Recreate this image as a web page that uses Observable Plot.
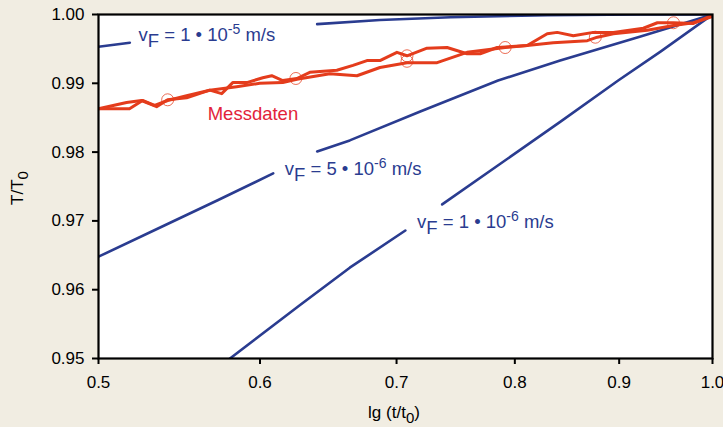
<!DOCTYPE html>
<html><head><meta charset="utf-8">
<script src="https://cdn.jsdelivr.net/npm/d3@7"></script>
<script src="https://cdn.jsdelivr.net/npm/@observablehq/plot@0.6"></script>
<style>
html,body{margin:0;padding:0;background:#f1ede2;}
#chart{width:723px;height:427px;position:relative;}
</style></head><body><div id="chart"></div>
<script>
// ---- data ----
const xTicks = [0.5, 0.6, 0.7, 0.8, 0.9, 1.0];
const yTicks = [0.95, 0.96, 0.97, 0.98, 0.99, 1.00];

// measurement run 1
const run1X = [0.5,0.5161,0.5249,0.5339,0.5406,0.5523,0.5669,0.5746,0.5818,0.5911,0.6019,0.6080,0.6156,0.6255,0.6347,0.6544,0.6664,0.6770,0.6870,0.7003,0.7083,0.7245,0.7411,0.7580,0.7693,0.7842,0.8112,0.8298,0.8392,0.8546,0.8741,0.8941,0.9249,0.9397,0.9569,0.9787,1.0];
const run1Y = [0.9863,0.9872,0.9875,0.9866,0.9876,0.9879,0.9890,0.9885,0.9901,0.9901,0.9908,0.9911,0.9904,0.9907,0.9916,0.9919,0.9926,0.9933,0.9933,0.9945,0.9940,0.9951,0.9952,0.9943,0.9943,0.9952,0.9955,0.9972,0.9974,0.9969,0.9974,0.9974,0.9980,0.9988,0.9988,0.9987,0.9999];
// measurement run 2
const run2X = [0.5,0.5178,0.5255,0.5327,0.5406,0.5523,0.5669,0.5844,0.5998,0.6156,0.6255,0.6492,0.6694,0.6870,0.7083,0.7328,0.7580,0.7719,0.7913,0.8112,0.8354,0.8682,0.8781,0.8941,0.9291,0.9569,0.9787,1.0];
const run2Y = [0.9863,0.9863,0.9875,0.9868,0.9875,0.9882,0.9890,0.9895,0.9900,0.9901,0.9906,0.9914,0.9911,0.9923,0.9930,0.9930,0.9945,0.9948,0.9952,0.9955,0.9959,0.9962,0.9967,0.9972,0.9977,0.9984,0.9988,0.9997];
// circled measurement points
const markX = [0.5406,0.6248,0.7083,0.7083,0.7913,0.8761,0.9569];
const markY = [0.9876,0.9907,0.9940,0.9932,0.9952,0.9967,0.9988];

// model curves (null = gap behind the label)
const v1e5X = [0.5,0.518,null,0.640,0.687,0.744,0.830,0.922,1.0];
const v1e5Y = [0.9953,0.9959,null,0.9986,0.9992,0.9996,0.9999,1.0,1.0];
const v5e6X = [0.5,0.5357,0.572,0.609,null,0.640,0.664,0.719,0.785,0.842,0.922,1.0];
const v5e6Y = [0.9648,0.9690,0.9730,0.9769,null,0.9801,0.9817,0.9859,0.9904,0.9933,0.9968,1.0];
const v1e6X = [0.580,0.628,0.664,0.707,null,0.737,0.787,0.842,0.899,0.943,1.0];
const v1e6Y = [0.95,0.9578,0.9632,0.9686,null,0.9724,0.9783,0.9844,0.9904,0.9946,1.0];

const curveLabels = ["vF = 1 • 10-5 m/s", "vF = 5 • 10-6 m/s", "vF = 1 • 10-6 m/s"];
const curveLabelX = [0.5231, 0.6170, 0.7164];
const curveLabelY = [0.99608, 0.9766, 0.9690];
const dataLabel = "Messdaten";
const dataLabelX = 0.5656, dataLabelY = 0.9847;

// ---- tables ----
const rows = (X, Y, s) => X.map((x, i) => ({x, y: Y[i], s}));
const curves = [...rows(v1e5X, v1e5Y, "1e-5"), ...rows(v5e6X, v5e6Y, "5e-6"), ...rows(v1e6X, v1e6Y, "1e-6")];
const runs = [...rows(run1X, run1Y, "r1"), ...rows(run2X, run2Y, "r2")];
const marks = rows(markX, markY, "m");
const labels = curveLabels.map((t, i) => ({t, x: curveLabelX[i], y: curveLabelY[i]}));

const BLUE = "#2a3c90", RED = "#e43c1c", LABELRED = "#e2233a";

const chart = Plot.plot({
  width: 723, height: 427,
  marginLeft: 98, marginRight: 11, marginTop: 14, marginBottom: 69,
  style: {background: "#f1ede2", fontFamily: "'Liberation Sans', Arial, sans-serif", fontSize: "17px", color: "black"},
  x: {type: "log", domain: [0.5, 1.0]},
  y: {domain: [0.95, 1.0]},
  marks: [
    Plot.frame({fill: "white", stroke: null}),
    Plot.line(curves, {x: "x", y: "y", z: "s", stroke: BLUE, strokeWidth: 2.6, clip: true}),
    Plot.line(runs, {x: "x", y: "y", z: "s", stroke: RED, strokeWidth: 3, clip: true}),
    Plot.dot(marks, {x: "x", y: "y", r: 6, stroke: RED, strokeWidth: 1, strokeOpacity: 0.75, fill: "none"}),
    Plot.text(labels, {x: "x", y: "y", text: "t", fill: BLUE, fontSize: 18.5, textAnchor: "start", lineAnchor: "bottom"}),
    Plot.text([dataLabel], {x: () => dataLabelX, y: () => dataLabelY, text: d => d, fill: LABELRED, fontSize: 18.5, textAnchor: "start", lineAnchor: "bottom"}),
    Plot.frame({stroke: "black", strokeWidth: 2.2}),
    Plot.axisX({ticks: xTicks, tickFormat: d => d.toFixed(1), tickSize: 6, tickPadding: 11, strokeWidth: 2, label: null, fontSize: 17}),
    Plot.axisY({ticks: yTicks, tickFormat: d => d.toFixed(2), tickSize: 6, tickPadding: 8, strokeWidth: 2, label: null, fontSize: 17})
  ]
});

// rich text (subscripts / superscripts)
const svg = d3.select(chart);
svg.selectAll("text").each(function () {
  const el = d3.select(this);
  const m = /^v(F) = (\d) • 10(-\d) m\/s$/.exec(this.textContent);
  if (!m) return;
  el.text(null);
  el.append("tspan").text("v");
  el.append("tspan").attr("dy", 6).text("F");
  el.append("tspan").attr("dy", -6).text(` = ${m[2]} • 10`);
  el.append("tspan").attr("dy", -7).attr("font-size", 14).text(m[3]);
  el.append("tspan").attr("dy", 7).text(" m/s");
});

// axis titles
const yt = svg.append("text")
  .attr("transform", "translate(23,188) rotate(-90)")
  .attr("text-anchor", "middle").attr("font-size", 17).attr("fill", "black");
yt.append("tspan").text("T/T");
yt.append("tspan").attr("dy", 5).attr("font-size", 15).text("0");

const xt = svg.append("text")
  .attr("x", 394).attr("y", 418)
  .attr("text-anchor", "middle").attr("font-size", 17).attr("fill", "black");
xt.append("tspan").text("lg (t/t");
xt.append("tspan").attr("dy", 5).attr("font-size", 15).text("0");
xt.append("tspan").attr("dy", -5).text(")");

document.getElementById("chart").appendChild(chart);
</script>
</body></html>
